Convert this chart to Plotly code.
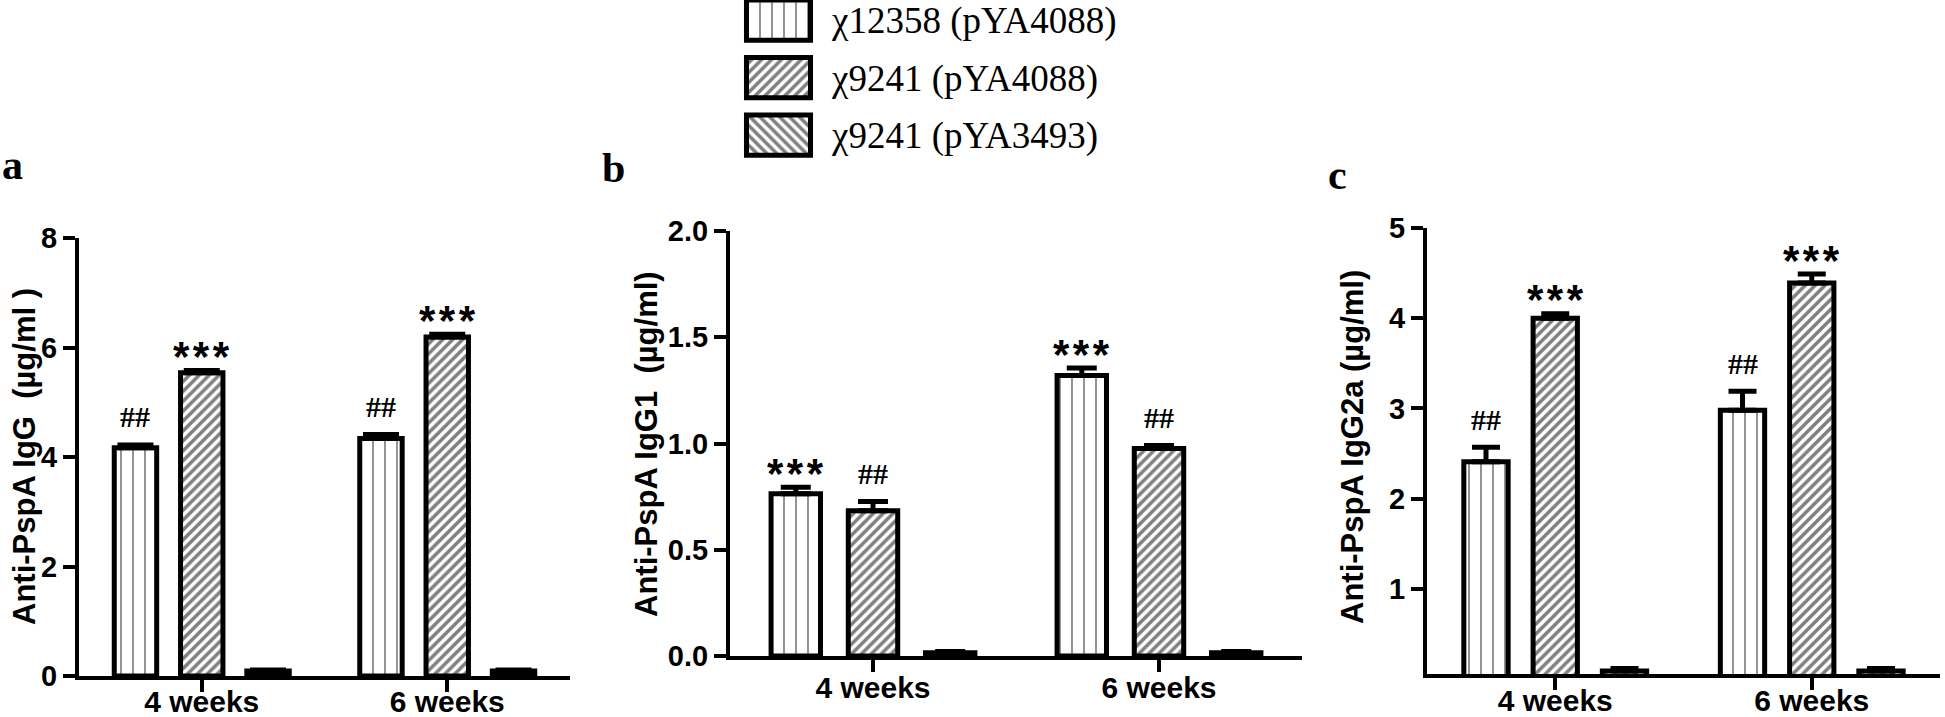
import plotly.graph_objects as go

W, H = 1945, 717

categories = ["4 weeks", "6 weeks"]
series_names = ["χ12358 (pYA4088)", "χ9241 (pYA4088)", "χ9241 (pYA3493)"]

# Panel a: IgG
igg_means = [[4.17, 4.34], [5.54, 6.19], [0.09, 0.09]]
igg_errs = [[0.05, 0.07], [0.04, 0.05], [0.02, 0.02]]
igg_marks = [["##", "##"], ["***", "***"], ["", ""]]

# Panel b: IgG1
igg1_means = [[0.764, 1.32], [0.684, 0.976], [0.015, 0.015]]
igg1_errs = [[0.03, 0.035], [0.043, 0.015], [0.006, 0.006]]
igg1_marks = [["***", "***"], ["##", "##"], ["", ""]]

# Panel c: IgG2a
igg2a_means = [[2.41, 2.98], [4.00, 4.39], [0.09, 0.09]]
igg2a_errs = [[0.16, 0.21], [0.05, 0.10], [0.03, 0.03]]
igg2a_marks = [["##", "##"], ["***", "***"], ["", ""]]

y_titles = ["Anti-PspA IgG  (µg/ml )", "Anti-PspA IgG1  (µg/ml)", "Anti-PspA IgG2a (µg/ml)"]
panel_letters = ["a", "b", "c"]

a_ticks = [0, 2, 4, 6, 8]
b_ticks = [0.0, 0.5, 1.0, 1.5, 2.0]
c_ticks = [1, 2, 3, 4, 5]

pattern_shapes = ["|", "/", "\\"]
pattern_sizes = [12, 7, 7]
pattern_solid = [0.14, 0.5, 0.5]

BARGAP = 0.19
GROUPGAP = 0.36


def px_x(p):
    return p / W


def px_y(p):
    return 1 - p / H


panels = [
    dict(means=igg_means, errs=igg_errs, marks=igg_marks, ticks=a_ticks, rng=[0, 8],
         xd=[79, 570], yd=[676, 238], capw=18, fmt=None, xstand=-16,
         title_x=24, title_y=457, letter=(0, 190)),
    dict(means=igg1_means, errs=igg1_errs, marks=igg1_marks, ticks=b_ticks, rng=[0, 2],
         xd=[730, 1302], yd=[656, 231], capw=15, fmt=".1f", xstand=-10,
         title_x=647, title_y=444, letter=(600, 193)),
    dict(means=igg2a_means, errs=igg2a_errs, marks=igg2a_marks, ticks=c_ticks, rng=[0.058, 5],
         xd=[1427, 1940], yd=[674, 228], capw=14, fmt=None, xstand=-15,
         title_x=1352, title_y=447, letter=(1326, 200)),
]

fig = go.Figure()
annotations = []
layout = {}
slot = (1 - BARGAP) / 3

for pi, p in enumerate(panels):
    sfx = "" if pi == 0 else str(pi + 1)
    xa, ya = "x" + sfx, "y" + sfx
    for si in range(3):
        fig.add_trace(go.Bar(
            x=categories, y=p["means"][si], name=series_names[si],
            xaxis=xa, yaxis=ya, showlegend=False,
            marker=dict(color="white", line=dict(color="black", width=5),
                        pattern=dict(shape=pattern_shapes[si], size=pattern_sizes[si],
                                     solidity=pattern_solid[si], fgcolor="black",
                                     bgcolor="white")),
            error_y=dict(type="data", array=p["errs"][si], arrayminus=[0, 0],
                         symmetric=False, color="black", thickness=5, width=p["capw"]),
        ))
        for ci in range(2):
            mk = p["marks"][si][ci]
            if not mk:
                continue
            top = p["means"][si][ci] + p["errs"][si][ci]
            is_star = mk.startswith("*")
            annotations.append(dict(
                xref=xa, yref=ya, x=ci + (si - 1) * slot, y=top,
                text="\u200a".join(mk) if is_star else mk,
                showarrow=False, yanchor="middle",
                yshift=14 if is_star else 28,
                font=dict(family="Liberation Sans", size=42, color="black", weight="bold")
                if is_star else dict(family="Liberation Serif", size=30, color="black",
                                     weight="bold"),
            ))
    layout["xaxis" + sfx] = dict(
        domain=[px_x(p["xd"][0]), px_x(p["xd"][1])], anchor=ya, automargin=False,
        type="category", range=[-0.5, 1.5], showline=True, linecolor="black", linewidth=4,
        ticks="outside", ticklen=12, tickwidth=4, tickcolor="black", showgrid=False,
        ticklabelstandoff=p["xstand"],
        tickfont=dict(family="Liberation Sans", size=30, color="black", weight="bold"),
        fixedrange=True,
    )
    layout["yaxis" + sfx] = dict(
        domain=[px_y(p["yd"][0]), px_y(p["yd"][1])], anchor=xa, automargin=False,
        range=p["rng"], tickmode="array", tickvals=p["ticks"],
        ticktext=[format(t, p["fmt"]) if p["fmt"] else str(t) for t in p["ticks"]],
        showline=True, linecolor="black", linewidth=4, ticks="outside", ticklen=12,
        tickwidth=4, tickcolor="black", showgrid=False, zeroline=False,
        tickfont=dict(family="Liberation Sans", size=29, color="black", weight="bold"),
        fixedrange=True,
    )
    annotations.append(dict(
        xref="paper", yref="paper", x=px_x(p["title_x"]), y=px_y(p["title_y"]),
        text=y_titles[pi], textangle=-90, showarrow=False,
        xanchor="center", yanchor="middle",
        font=dict(family="Liberation Sans", size=31, color="black", weight="bold"),
    ))
    annotations.append(dict(
        xref="paper", yref="paper", x=px_x(p["letter"][0]), y=px_y(p["letter"][1]),
        text=panel_letters[pi], showarrow=False, xanchor="left", yanchor="bottom",
        font=dict(family="Liberation Serif", size=42, color="black", weight="bold"),
    ))

# Legend drawn as a small patterned bar panel
fig.add_trace(go.Bar(
    x=[1, 1, 1], y=series_names, orientation="h", xaxis="x4", yaxis="y4",
    width=0.7, showlegend=False, hoverinfo="skip",
    marker=dict(color="white", line=dict(color="black", width=5),
                pattern=dict(shape=pattern_shapes, size=pattern_sizes,
                             solidity=pattern_solid, fgcolor="black", bgcolor="white")),
))
layout["xaxis4"] = dict(domain=[px_x(742), px_x(815)], anchor="y4", range=[-0.07, 1.07],
                        visible=False, fixedrange=True, automargin=False)
layout["yaxis4"] = dict(domain=[px_y(164), 1.0], anchor="x4", side="right",
                        type="category", categoryorder="array", categoryarray=series_names,
                        range=[2.5, -0.352], showline=False, ticks="", showgrid=False,
                        ticklabelstandoff=16, automargin=False,
                        tickfont=dict(family="Liberation Serif", size=37, color="black"),
                        fixedrange=True)

fig.update_layout(
    width=W, height=H, autosize=False,
    margin=dict(l=0, r=0, t=0, b=0, pad=0, autoexpand=False),
    paper_bgcolor="white", plot_bgcolor="white",
    barmode="group", bargap=BARGAP, bargroupgap=GROUPGAP,
    annotations=annotations, showlegend=False,
    font=dict(family="Liberation Sans", color="black"),
    **layout,
)

fig.write_html("out.html", config={"displayModeBar": False},
               post_script="document.body.style.margin='0px';")
